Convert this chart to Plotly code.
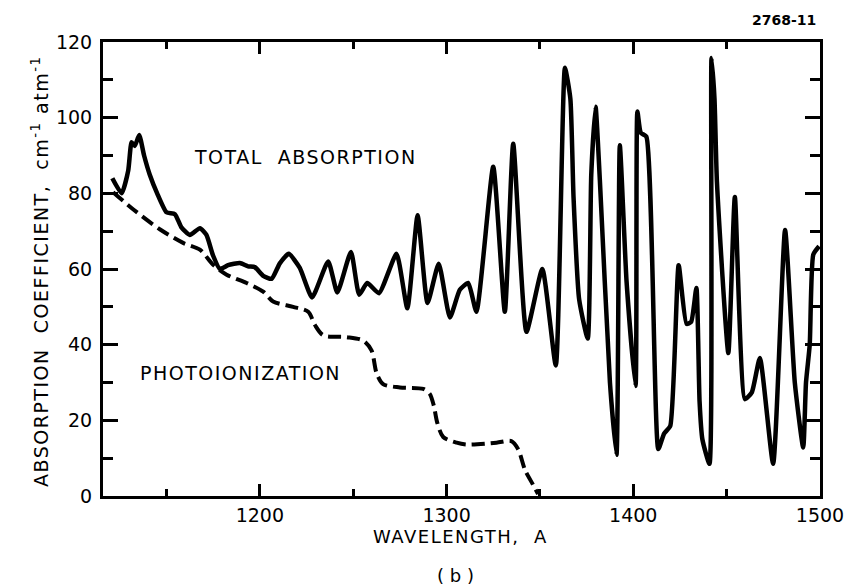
import plotly.graph_objects as go

# Total absorption (solid) - wavelength (A), coefficient (cm^-1 atm^-1)
total_wl = [1121.0, 1126.0, 1129.5, 1131.3, 1133.0, 1135.4, 1138.0, 1141.0, 1145.0, 1150.0,
            1154.5, 1158.0, 1162.5, 1167.9, 1171.4, 1175.0, 1178.6, 1183.0, 1189.3, 1193.7,
            1197.3, 1201.8, 1206.3, 1210.7, 1215.5, 1221.4, 1228.0, 1236.6, 1241.5, 1248.8,
            1253.2, 1257.5, 1263.8, 1273.2, 1279.0, 1284.5, 1289.8, 1295.8, 1301.8, 1307.1,
            1311.6, 1316.0, 1325.0, 1331.2, 1335.7, 1342.8, 1351.3, 1358.5, 1363.4, 1366.3,
            1368.0, 1371.0, 1375.6, 1377.5, 1379.8, 1382.1, 1387.5, 1391.0, 1392.8, 1396.4,
            1401.2, 1402.2, 1404.0, 1407.0, 1413.4, 1416.5, 1419.8, 1424.3, 1428.5, 1431.0,
            1433.8, 1435.5, 1437.0, 1440.8, 1441.9, 1443.5, 1444.8, 1450.9, 1454.4, 1459.8,
            1463.5, 1467.8, 1474.9, 1481.3, 1486.5, 1491.0, 1492.5, 1494.5, 1496.4, 1499.5]
total_abs = [84.0, 80.0, 86.0, 93.5, 92.5, 95.4, 90.0, 85.0, 80.0, 75.0,
             74.5, 71.0, 69.0, 70.8, 69.0, 63.5, 60.0, 61.0, 61.6, 60.7,
             60.5, 58.2, 57.4, 61.5, 64.0, 60.3, 52.5, 62.0, 53.8, 64.5,
             53.2, 56.3, 53.6, 64.0, 49.6, 74.2, 51.0, 61.4, 47.2, 54.5,
             56.3, 48.7, 87.0, 48.7, 93.1, 43.4, 60.0, 34.5, 113.2, 105.0,
             79.0, 52.0, 41.6, 85.0, 102.9, 83.5, 30.0, 10.9, 92.7, 56.7,
             29.1, 101.6, 96.0, 95.0, 12.4, 16.5, 18.5, 61.0, 45.5, 46.0,
             55.0, 25.0, 15.0, 8.5, 115.8, 105.0, 83.0, 37.8, 79.0, 25.6,
             27.4, 36.5, 8.5, 70.3, 30.0, 12.8, 30.0, 40.0, 63.8, 66.0]

# Photoionization (dashed)
photo_wl = [1121.4, 1132.1, 1146.4, 1158.9, 1167.9, 1175.0, 1182.2, 1192.9, 1201.8, 1207.1,
            1217.8, 1225.9, 1229.5, 1233.9, 1246.4, 1255.3, 1259.8, 1262.5, 1266.0, 1275.0,
            1287.5, 1291.0, 1293.2, 1295.0, 1298.2, 1305.4, 1310.7, 1326.7, 1334.7, 1338.4,
            1342.0, 1346.4, 1349.0]
photo_abs = [80.3, 75.8, 70.5, 66.9, 65.1, 61.1, 58.5, 56.3, 54.0, 51.4,
             50.0, 48.7, 45.2, 42.5, 42.0, 41.1, 38.5, 32.5, 29.6, 28.7,
             28.3, 27.0, 23.8, 19.4, 15.6, 14.1, 13.6, 14.1, 14.5, 12.3,
             6.9, 2.9, 0.5]

y_ticks = [0, 20, 40, 60, 80, 100, 120]
x_ticks = [1200, 1300, 1400, 1500]

FONT = "DejaVu Sans"

# page has an 8px body margin; figure sized so it fits the 860x588 window
W, H = 852, 580
ML, MR, MT, MB = 95, 40, 34, 92
PW, PH = W - ML - MR, H - MT - MB
OFF = 8


def px(xp):
    return (xp - OFF - ML) / PW


def py(yp):
    return (H - (yp - OFF) - MB) / PH


fig = go.Figure()
fig.add_trace(go.Scatter(x=photo_wl, y=photo_abs, mode="lines",
                         line=dict(color="black", width=4, dash="13px,6px", shape="spline", smoothing=0.8),
                         hoverinfo="skip", showlegend=False))
fig.add_trace(go.Scatter(x=total_wl, y=total_abs, mode="lines",
                         line=dict(color="black", width=4.5, shape="spline", smoothing=0.5),
                         hoverinfo="skip", showlegend=False))

fig.update_layout(
    width=W, height=H,
    margin=dict(l=ML, r=MR, t=MT, b=MB),
    paper_bgcolor="white", plot_bgcolor="white",
    font=dict(family=FONT, color="black", size=19),
    showlegend=False,
    xaxis=dict(range=[1116, 1500], tickvals=x_ticks, ticktext=[str(v) for v in x_ticks],
               ticks="inside", ticklen=12, tickwidth=2.5, tickcolor="black",
               minor=dict(dtick=50, ticks="inside", ticklen=7, tickwidth=2.5, tickcolor="black"),
               showline=True, linewidth=3, linecolor="black", mirror="ticks",
               showgrid=False, zeroline=False, tickfont=dict(size=19, family=FONT)),
    yaxis=dict(range=[0, 120], tickvals=y_ticks, ticktext=[str(v) for v in y_ticks],
               ticks="inside", ticklen=15, tickwidth=2.5, tickcolor="black",
               minor=dict(dtick=10, ticks="inside", ticklen=10, tickwidth=2.5, tickcolor="black"),
               showline=True, linewidth=3, linecolor="black", mirror="ticks",
               ticklabelstandoff=4,
               showgrid=False, zeroline=False, tickfont=dict(size=19, family=FONT)),
)

LS = '<span style="letter-spacing:1.5px">{}</span>'

fig.add_annotation(x=1224.6, y=89.7, xref="x", yref="y", text=LS.format("TOTAL  ABSORPTION"),
                   xanchor="center", yanchor="middle",
                   showarrow=False, font=dict(size=19, family=FONT))
fig.add_annotation(x=1189.8, y=32.5, xref="x", yref="y", text=LS.format("PHOTOIONIZATION"),
                   xanchor="center", yanchor="middle",
                   showarrow=False, font=dict(size=19, family=FONT))
fig.add_annotation(x=px(460), y=py(536), xref="paper", yref="paper", text=LS.format("WAVELENGTH,  A"),
                   xanchor="center", yanchor="middle",
                   showarrow=False, font=dict(size=18, family=FONT))
fig.add_annotation(x=px(455), y=py(575), xref="paper", yref="paper", text="( b )",
                   xanchor="center", yanchor="middle",
                   showarrow=False, font=dict(size=18, family=FONT))
fig.add_annotation(x=px(818), y=py(20), xref="paper", yref="paper", text="<b>2768-11</b>",
                   xanchor="right", yanchor="middle",
                   showarrow=False, font=dict(size=14, family=FONT))
fig.add_annotation(x=px(40), y=py(272), xref="paper", yref="paper",
                   text=LS.format("ABSORPTION  COEFFICIENT,  cm<sup>-1</sup> atm<sup>-1</sup>"),
                   xanchor="center", yanchor="middle",
                   textangle=-90, showarrow=False, font=dict(size=19, family=FONT))

fig.write_html("out.html")
